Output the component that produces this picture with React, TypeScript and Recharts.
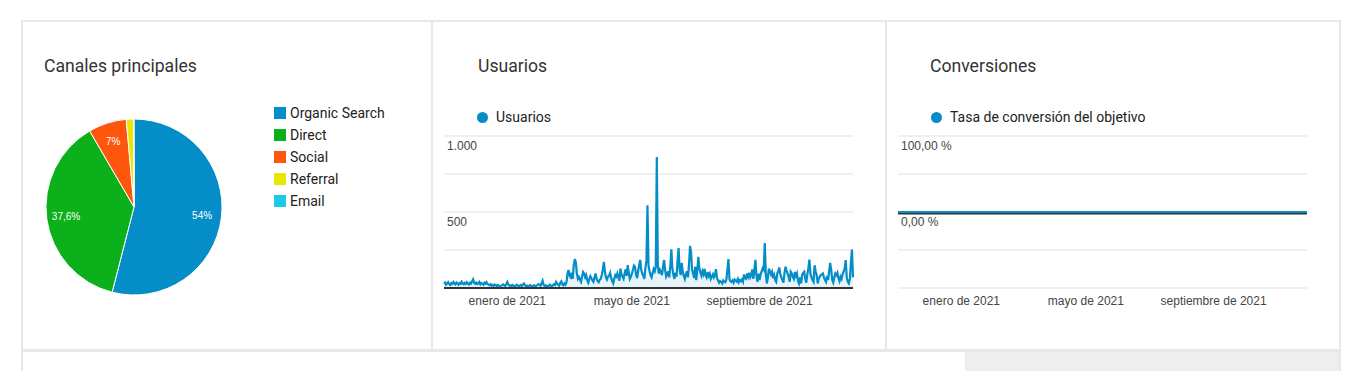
import React from 'react';
import {
  PieChart, Pie, Cell, Legend, AreaChart, Area, LineChart, Line,
  XAxis, YAxis, CartesianGrid, ReferenceLine
} from 'recharts';

// Canales principales
const channels = ['Organic Search', 'Direct', 'Social', 'Referral', 'Email'];
const channelShares = [54, 37.6, 7, 1.3, 0.1];
const channelColors = ['#058dc7', '#0bb01a', '#ff560d', '#e8e800', '#1fcbe3'];

// Usuarios diarios, 1 nov 2020 - 30 nov 2021
const usuariosNov2020 = [28, 35, 22, 30, 38, 26, 20, 32, 27, 40, 31, 24, 36, 29, 22, 33, 28, 41, 30, 25, 34, 27, 38, 30, 23, 35, 29, 45, 57, 32];
const usuariosDic2020 = [28, 36, 25, 30, 40, 24, 33, 27, 21, 35, 29, 38, 26, 22, 18, 25, 15, 20, 14, 22, 18, 12, 20, 16, 10, 14, 19, 24, 17, 12, 26];
const usuariosEne2021 = [40, 22, 15, 18, 12, 20, 16, 10, 14, 22, 18, 11, 15, 20, 13, 24, 30, 18, 12, 16, 10, 14, 20, 12, 9, 15, 18, 11, 14, 20, 26];
const usuariosFeb2021 = [22, 15, 30, 48, 20, 14, 18, 12, 10, 16, 22, 14, 11, 18, 25, 20, 40, 28, 22, 15, 35, 44, 24, 18, 30, 22, 38, 95];
const usuariosMar2021 = [118, 80, 70, 100, 60, 150, 190, 170, 95, 60, 72, 55, 40, 75, 105, 95, 70, 85, 50, 35, 60, 78, 65, 50, 40, 70, 96, 60, 45, 38, 55];
const usuariosAbr2021 = [60, 85, 120, 172, 110, 70, 55, 74, 80, 100, 68, 45, 30, 60, 85, 75, 96, 70, 48, 128, 90, 75, 60, 95, 124, 80, 150, 100, 60, 74];
const usuariosMay2021 = [95, 120, 148, 140, 90, 65, 110, 150, 185, 120, 95, 80, 60, 130, 180, 545, 150, 110, 85, 70, 100, 125, 110, 140, 862, 140, 95, 120, 105, 85, 140];
const usuariosJun2021 = [185, 120, 75, 90, 110, 70, 140, 255, 130, 85, 60, 100, 75, 180, 262, 120, 85, 165, 105, 80, 60, 90, 110, 70, 150, 277, 235, 120, 95, 65];
const usuariosJul2021 = [140, 52, 120, 205, 130, 100, 80, 110, 90, 125, 85, 70, 105, 80, 95, 60, 75, 90, 70, 85, 124, 65, 50, 35, 45, 40, 30, 50, 42, 38, 55];
const usuariosAgo2021 = [120, 190, 60, 45, 40, 50, 35, 55, 48, 42, 60, 38, 52, 45, 55, 40, 89, 65, 60, 96, 75, 100, 70, 85, 122, 60, 120, 185, 80, 40, 95];
const usuariosSep2021 = [52, 90, 110, 130, 120, 295, 95, 30, 70, 128, 110, 90, 107, 65, 85, 52, 40, 95, 110, 135, 90, 70, 52, 35, 100, 140, 115, 95, 75, 41];
const usuariosOct2021 = [107, 95, 74, 60, 105, 80, 96, 45, 30, 70, 30, 85, 100, 107, 60, 35, 90, 130, 187, 95, 70, 52, 40, 150, 110, 85, 30, 60, 75, 85, 90];
const usuariosNov2021 = [96, 70, 52, 40, 80, 52, 110, 165, 120, 52, 35, 70, 96, 85, 100, 65, 45, 74, 60, 90, 110, 130, 183, 70, 40, 30, 60, 170, 253, 70];

const usuariosMeses = [
  usuariosNov2020, usuariosDic2020, usuariosEne2021, usuariosFeb2021, usuariosMar2021,
  usuariosAbr2021, usuariosMay2021, usuariosJun2021, usuariosJul2021, usuariosAgo2021,
  usuariosSep2021, usuariosOct2021, usuariosNov2021,
];

// Tasa de conversión del objetivo por mes (%)
const conversionPorMes = [0, 0, 0, 0, 0, 0, 0, 0, 0, 0, 0, 0, 0];

const xTicks = [61, 181, 304];
const xTickLabels = ['enero de 2021', 'mayo de 2021', 'septiembre de 2021'];
const usuariosTicks = [0, 250, 500, 750, 1000];
const usuariosTickLabels = ['', '', '500', '', '1.000'];
const conversionTicks = [-100, -50, 0, 50, 100];
const conversionTickLabels = ['', '', '0,00 %', '', '100,00 %'];

const pieData = channels.map((name, i) => ({ name, value: channelShares[i] }));

const chartData = usuariosMeses.flatMap((mes, m) =>
  mes.map((v) => ({ usuarios: v, conversion: conversionPorMes[m] }))
).map((d, i) => ({ day: i, ...d }));

const lastDay = chartData.length - 1;
const BLUE = '#058dc7';
const AXIS_FONT = '"Liberation Sans", Arial, sans-serif';
const UI_FONT = 'Roboto, "Noto Sans", sans-serif';
const BORDER = '#e8e8e8';
const RADIAN = Math.PI / 180;

const renderPieLabel = (props: any) => {
  const { cx, cy, midAngle, outerRadius, value } = props;
  if (value < 5) return null;
  const r = outerRadius * 0.78;
  const x = cx + r * Math.cos(-midAngle * RADIAN);
  const y = cy + r * Math.sin(-midAngle * RADIAN);
  return (
    <text x={x} y={y} fill="#fff" fontSize={10} fontFamily={AXIS_FONT} textAnchor="middle" dominantBaseline="central">
      {String(value).replace('.', ',') + '%'}
    </text>
  );
};

// etiqueta de eje Y dentro del área, bajo la línea de cuadrícula
const makeYTick = (ticks: number[], labels: string[]) => (props: any) => {
  const { x, y, payload } = props;
  const label = labels[ticks.indexOf(payload.value)];
  return (
    <text x={x} y={y + 13.5} fontSize={12} fill="#444" fontFamily={AXIS_FONT} textAnchor="start">
      {label}
    </text>
  );
};

const formatX = (v: number) => xTickLabels[xTicks.indexOf(v)] ?? '';

const PieLegend = () => (
  <div style={{ fontFamily: UI_FONT, fontSize: 14, color: '#222' }}>
    {channels.map((name, i) => (
      <div key={name} style={{ height: 22, display: 'flex', alignItems: 'center' }}>
        <span style={{ width: 12, height: 12, background: channelColors[i], marginRight: 4, display: 'inline-block' }} />
        {name}
      </div>
    ))}
  </div>
);

const DotLegend = ({ left, text }: { left: number; text: string }) => (
  <div style={{
    position: 'absolute', left, top: 106, height: 22, display: 'flex', alignItems: 'center',
    fontFamily: UI_FONT, fontSize: 14, color: '#222', whiteSpace: 'nowrap'
  }}>
    <span style={{ width: 11, height: 11, borderRadius: '50%', background: BLUE, marginRight: 8, display: 'inline-block' }} />
    {text}
  </div>
);

const Title = ({ left, text }: { left: number; text: string }) => (
  <div style={{
    position: 'absolute', left, top: 57, fontFamily: UI_FONT, fontSize: 17.6, lineHeight: '18px',
    color: '#333', whiteSpace: 'nowrap'
  }}>{text}</div>
);

export default function App() {
  return (
    <div style={{ position: 'absolute', left: 0, top: 0, width: 1360, height: 371, background: '#fff', overflow: 'hidden' }}>
      {/* tarjeta */}
      <div style={{
        position: 'absolute', left: 21, top: 20, width: 1320, height: 332, boxSizing: 'border-box',
        borderTop: `2px solid ${BORDER}`, borderLeft: `2px solid ${BORDER}`, borderRight: `2px solid ${BORDER}`,
        borderBottom: `3px solid ${BORDER}`
      }} />
      <div style={{ position: 'absolute', left: 431, top: 20, width: 2, height: 332, background: BORDER }} />
      <div style={{ position: 'absolute', left: 885, top: 20, width: 2, height: 332, background: BORDER }} />
      <div style={{
        position: 'absolute', left: 21, top: 352, width: 1320, height: 19, boxSizing: 'border-box',
        borderLeft: `2px solid ${BORDER}`, borderRight: `2px solid ${BORDER}`
      }} />
      <div style={{ position: 'absolute', left: 965, top: 352, width: 374, height: 19, background: '#eeeeee' }} />

      <Title left={44} text="Canales principales" />
      <Title left={478} text="Usuarios" />
      <Title left={930} text="Conversiones" />

      <div style={{ position: 'absolute', left: 22, top: 22 }}>
        <PieChart width={408} height={326} margin={{ top: 0, right: 0, bottom: 0, left: 0 }}>
          <Pie
            data={pieData}
            dataKey="value"
            nameKey="name"
            cx={112}
            cy={185}
            outerRadius={88}
            startAngle={90}
            endAngle={-270}
            stroke="#fff"
            strokeWidth={1}
            label={renderPieLabel}
            labelLine={false}
            isAnimationActive={false}
          >
            {pieData.map((d, i) => (
              <Cell key={d.name} fill={channelColors[i]} />
            ))}
          </Pie>
          <Legend
            layout="vertical"
            align="right"
            verticalAlign="top"
            wrapperStyle={{ left: 252, top: 80, width: 150 }}
            content={() => <PieLegend />}
          />
        </PieChart>
      </div>

      <DotLegend left={477} text="Usuarios" />
      <div style={{ position: 'absolute', left: 432, top: 100 }}>
        <AreaChart width={454} height={230} data={chartData} margin={{ top: 36, right: 33, left: 12, bottom: 12 }}>
          <CartesianGrid horizontal vertical={false} stroke="#ebebeb" strokeWidth={1.5} />
          <XAxis
            dataKey="day"
            type="number"
            domain={[0, lastDay]}
            ticks={xTicks}
            tickFormatter={formatX}
            tickLine={false}
            axisLine={{ stroke: '#333', strokeWidth: 2 }}
            height={30}
            tick={{ fontSize: 12, fill: '#444', fontFamily: AXIS_FONT }}
          />
          <YAxis
            width={10}
            mirror
            domain={[0, 1000]}
            ticks={usuariosTicks}
            interval={0}
            tickLine={false}
            axisLine={false}
            tickSize={0}
            tickMargin={3}
            tick={makeYTick(usuariosTicks, usuariosTickLabels)}
          />
          <Area
            type="linear"
            dataKey="usuarios"
            stroke={BLUE}
            strokeWidth={2.2}
            fill="#e6f4fa"
            fillOpacity={1}
            dot={false}
            activeDot={false}
            isAnimationActive={false}
          />
        </AreaChart>
      </div>

      <DotLegend left={931} text="Tasa de conversión del objetivo" />
      <div style={{ position: 'absolute', left: 886, top: 100 }}>
        <LineChart width={455} height={230} data={chartData} margin={{ top: 36, right: 34, left: 12, bottom: 12 }}>
          <CartesianGrid horizontal vertical={false} stroke="#ebebeb" strokeWidth={1.5} />
          <XAxis
            dataKey="day"
            type="number"
            domain={[0, lastDay]}
            ticks={xTicks}
            tickFormatter={formatX}
            tickLine={false}
            axisLine={false}
            height={30}
            tick={{ fontSize: 12, fill: '#444', fontFamily: AXIS_FONT }}
          />
          <YAxis
            width={10}
            mirror
            domain={[-100, 100]}
            ticks={conversionTicks}
            interval={0}
            tickLine={false}
            axisLine={false}
            tickSize={0}
            tickMargin={3}
            tick={makeYTick(conversionTicks, conversionTickLabels)}
          />
          <ReferenceLine
            y={0}
            shape={(p: any) => (
              <line x1={p.x1} x2={p.x2} y1={p.y1 + 1.8} y2={p.y2 + 1.8} stroke="#333" strokeWidth={1.5} />
            )}
          />
          <Line
            type="linear"
            dataKey="conversion"
            stroke={BLUE}
            strokeWidth={2}
            dot={false}
            activeDot={false}
            isAnimationActive={false}
          />
        </LineChart>
      </div>
    </div>
  );
}
